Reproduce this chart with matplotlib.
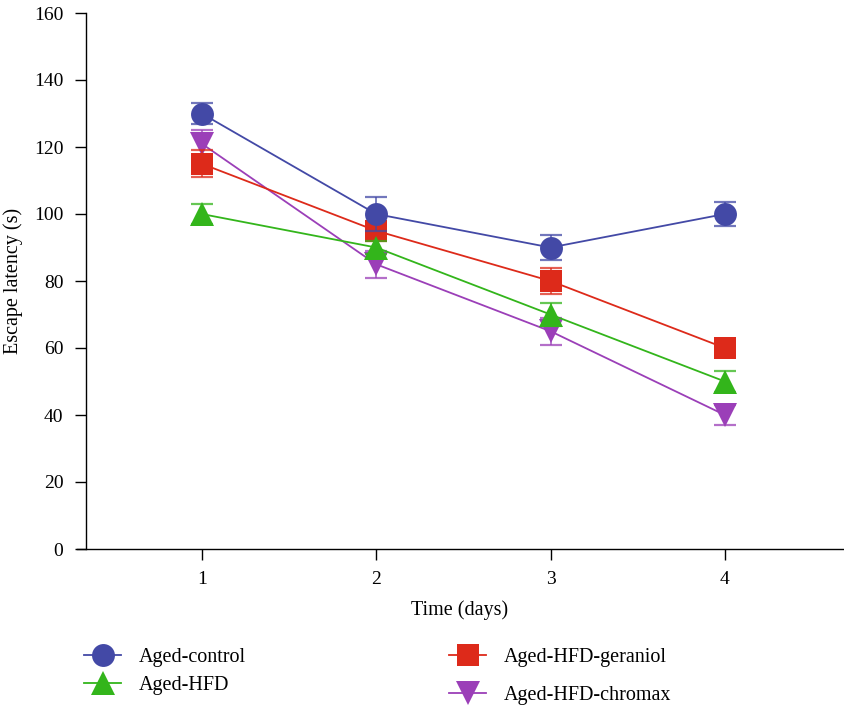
"""Escape latency across training days for the four aged groups."""

import matplotlib
matplotlib.use("Agg")
import matplotlib.pyplot as plt

days = [1, 2, 3, 4]

control_mean = [130, 100, 90, 100]
control_err = [3.2, 5.0, 3.6, 3.5]
hfd_mean = [100, 90, 70, 50]
hfd_err = [3.0, 2.0, 3.5, 3.0]
geraniol_mean = [115, 95, 80, 60]
geraniol_err = [4.0, 3.0, 4.0, 2.0]
chromax_mean = [121, 85, 65, 40]
chromax_err = [4.0, 4.0, 4.0, 3.0]

plt.rcParams["font.family"] = ["Liberation Serif", "DejaVu Serif"]

# (label, means, errors, colour, marker, size, z-order)
groups = [
    ("Aged-control", control_mean, control_err, "#4349a6", "o", 16.5, 5),
    ("Aged-HFD", hfd_mean, hfd_err, "#33b51b", "^", 17, 4),
    ("Aged-HFD-geraniol", geraniol_mean, geraniol_err, "#dd2a1a", "s", 16, 3),
    ("Aged-HFD-chromax", chromax_mean, chromax_err, "#9b3fb8", "v", 17, 2),
]

fig = plt.figure(figsize=(8.45, 7.09), dpi=100)
ax = fig.add_axes([77 / 845, 160 / 709, 766 / 845, 536 / 709])

handles = {}
for label, means, errs, color, marker, size, z in groups:
    ax.errorbar(days, means, yerr=errs, fmt="none", ecolor=color, elinewidth=1.3,
                capsize=8, capthick=1.6, alpha=0.75, zorder=z)
    (line,) = ax.plot(days, means, color=color, lw=1.3, marker=marker,
                      markersize=size, markeredgewidth=0, zorder=z)
    handles[label] = line

ax.set_xlim(0.285, 4.677)
ax.set_ylim(0, 160)
ax.set_xticks(days)
ax.set_yticks(range(0, 161, 20))
ax.spines["top"].set_visible(False)
ax.spines["right"].set_visible(False)
ax.spines["left"].set_position(("axes", 8.7 / 766))
for side in ("left", "bottom"):
    ax.spines[side].set_linewidth(1.0)
ax.tick_params(direction="out", length=8, width=1, labelsize=14)
ax.tick_params(axis="x", pad=8)
ax.tick_params(axis="y", pad=8)
ax.set_xlabel("Time (days)", fontsize=14.5, labelpad=9)
ax.set_ylabel("Escape latency (s)", fontsize=14.5, labelpad=8)

legend_kw = dict(loc="center left", frameon=False, fontsize=14.5, borderpad=0,
                 borderaxespad=0, handlelength=1.85, handletextpad=0.85)
left_keys = ["Aged-control", "Aged-HFD"]
right_keys = ["Aged-HFD-geraniol", "Aged-HFD-chromax"]
fig.legend([handles[k] for k in left_keys], left_keys,
           bbox_to_anchor=(84 / 845, 1 - 671.5 / 709), labelspacing=0.45, **legend_kw)
fig.legend([handles[k] for k in right_keys], right_keys,
           bbox_to_anchor=(449 / 845, 1 - 676.5 / 709), labelspacing=0.9, **legend_kw)

fig.savefig("out.png", dpi=100)
